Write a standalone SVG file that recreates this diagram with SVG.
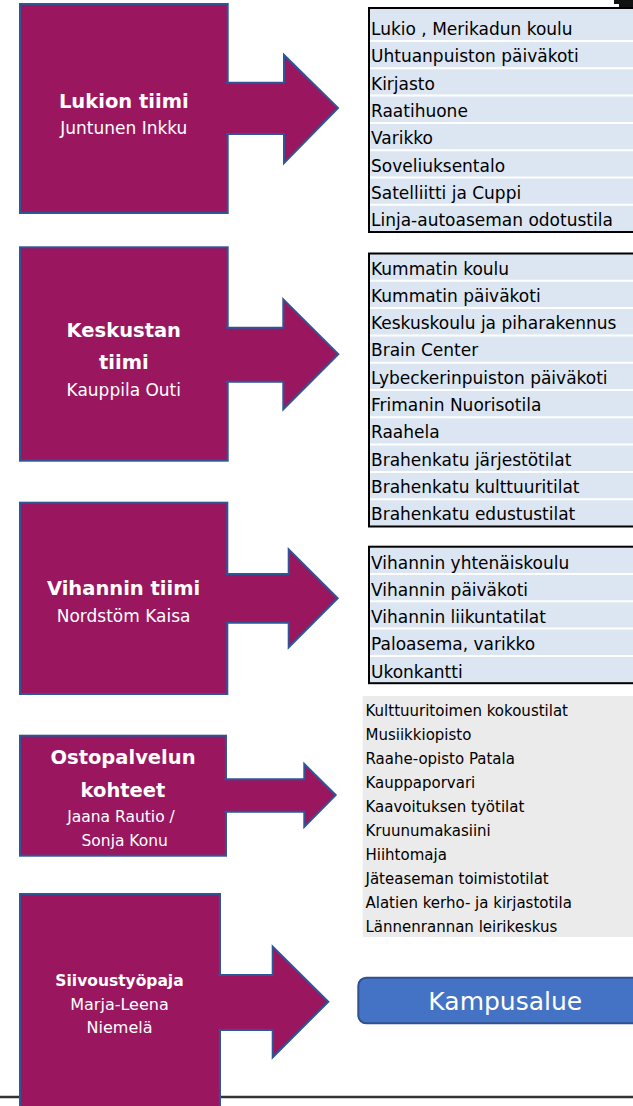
<svg xmlns="http://www.w3.org/2000/svg" width="633" height="1106" viewBox="0 0 633 1106">
<defs>
<style>
.team{fill:#9a1760;stroke:#2f5597;stroke-width:2}
.arrow{fill:#9a1760;stroke:#2f5597;stroke-width:2;stroke-linejoin:miter}
.tb{font-family:"DejaVu Sans",sans-serif;font-weight:bold;fill:#ffffff;text-anchor:middle}
.tr{font-family:"DejaVu Sans",sans-serif;fill:#ffffff;text-anchor:middle}
.list{fill:#dce6f2;stroke:#000000;stroke-width:2}
.sep{stroke:#ffffff;stroke-width:2}
.li{font-family:"DejaVu Sans",sans-serif;font-size:17px;fill:#000000}
.gi{font-family:"DejaVu Sans",sans-serif;font-size:15px;fill:#000000}
</style>
</defs>
<rect width="633" height="1106" fill="#ffffff"/>
<line x1="0" y1="1097" x2="633" y2="1097" stroke="#333333" stroke-width="2.5"/>
<path d="M614,0 H633 V7 H619 V4 H614 Z" fill="#111111"/>

<g id="list-lukio">
<rect class="list" x="369" y="8" width="275" height="224"/>
<g class="sep">
<line x1="370" y1="41" x2="633" y2="41"/><line x1="370" y1="68.3" x2="633" y2="68.3"/><line x1="370" y1="95.6" x2="633" y2="95.6"/><line x1="370" y1="122.9" x2="633" y2="122.9"/><line x1="370" y1="150.2" x2="633" y2="150.2"/><line x1="370" y1="177.5" x2="633" y2="177.5"/><line x1="370" y1="204.8" x2="633" y2="204.8"/>
</g>
<text class="li" x="371" y="35">Lukio , Merikadun koulu</text>
<text class="li" x="371" y="62.3">Uhtuanpuiston päiväkoti</text>
<text class="li" x="371" y="89.6">Kirjasto</text>
<text class="li" x="371" y="116.9">Raatihuone</text>
<text class="li" x="371" y="144.2">Varikko</text>
<text class="li" x="371" y="171.5">Soveliuksentalo</text>
<text class="li" x="371" y="198.8">Satelliitti ja Cuppi</text>
<text class="li" x="371" y="226">Linja-autoaseman odotustila</text>
</g>

<g id="list-keskusta">
<rect class="list" x="369" y="253.5" width="275" height="273"/>
<g class="sep">
<line x1="370" y1="280.8" x2="633" y2="280.8"/><line x1="370" y1="308.1" x2="633" y2="308.1"/><line x1="370" y1="335.4" x2="633" y2="335.4"/><line x1="370" y1="362.7" x2="633" y2="362.7"/><line x1="370" y1="390" x2="633" y2="390"/><line x1="370" y1="417.3" x2="633" y2="417.3"/><line x1="370" y1="444.6" x2="633" y2="444.6"/><line x1="370" y1="471.9" x2="633" y2="471.9"/><line x1="370" y1="499.2" x2="633" y2="499.2"/>
</g>
<text class="li" x="371" y="274.5">Kummatin koulu</text>
<text class="li" x="371" y="301.8">Kummatin päiväkoti</text>
<text class="li" x="371" y="329.1">Keskuskoulu ja piharakennus</text>
<text class="li" x="371" y="356.4">Brain Center</text>
<text class="li" x="371" y="383.7">Lybeckerinpuiston päiväkoti</text>
<text class="li" x="371" y="411">Frimanin Nuorisotila</text>
<text class="li" x="371" y="438.3">Raahela</text>
<text class="li" x="371" y="465.6">Brahenkatu järjestötilat</text>
<text class="li" x="371" y="492.9">Brahenkatu kulttuuritilat</text>
<text class="li" x="371" y="520.2">Brahenkatu edustustilat</text>
</g>

<g id="list-vihanti">
<rect class="list" x="369" y="546.7" width="275" height="136.5"/>
<g class="sep">
<line x1="370" y1="574" x2="633" y2="574"/><line x1="370" y1="601.3" x2="633" y2="601.3"/><line x1="370" y1="628.6" x2="633" y2="628.6"/><line x1="370" y1="655.9" x2="633" y2="655.9"/>
</g>
<text class="li" x="371" y="568.5">Vihannin yhtenäiskoulu</text>
<text class="li" x="371" y="595.8">Vihannin päiväkoti</text>
<text class="li" x="371" y="623.1">Vihannin liikuntatilat</text>
<text class="li" x="371" y="650.4">Paloasema, varikko</text>
<text class="li" x="371" y="677.7">Ukonkantti</text>
</g>

<g id="list-ostopalvelu">
<rect x="362.7" y="696" width="271" height="241" fill="#ebebeb"/>
<text class="gi" x="365.5" y="716">Kulttuuritoimen kokoustilat</text>
<text class="gi" x="365.5" y="740">Musiikkiopisto</text>
<text class="gi" x="365.5" y="764">Raahe-opisto Patala</text>
<text class="gi" x="365.5" y="788">Kauppaporvari</text>
<text class="gi" x="365.5" y="812">Kaavoituksen työtilat</text>
<text class="gi" x="365.5" y="836">Kruunumakasiini</text>
<text class="gi" x="365.5" y="860">Hiihtomaja</text>
<text class="gi" x="365.5" y="884">Jäteaseman toimistotilat</text>
<text class="gi" x="365.5" y="908">Alatien kerho- ja kirjastotila</text>
<text class="gi" x="365.5" y="932">Lännenrannan leirikeskus</text>
</g>

<g id="team-lukio">
<rect class="team" x="20" y="4" width="207.7" height="209"/>
<text class="tb" x="123.8" y="108" font-size="19.5">Lukion tiimi</text>
<text class="tr" x="123.8" y="134" font-size="17">Juntunen Inkku</text>
</g>

<g id="team-keskusta">
<rect class="team" x="20" y="247.3" width="207.7" height="213.4"/>
<text class="tb" x="123.8" y="336.7" font-size="19.5">Keskustan</text>
<text class="tb" x="123.8" y="369.3" font-size="19.5">tiimi</text>
<text class="tr" x="123.8" y="396" font-size="17">Kauppila Outi</text>
</g>

<g id="team-vihanti">
<rect class="team" x="20" y="502.7" width="207.3" height="191.3"/>
<text class="tb" x="123.6" y="595" font-size="19.5">Vihannin tiimi</text>
<text class="tr" x="123.6" y="621.7" font-size="17">Nordstöm Kaisa</text>
</g>

<g id="team-ostopalvelu">
<rect class="team" x="20" y="735.7" width="206" height="120"/>
<text class="tb" x="123" y="764" font-size="19.5">Ostopalvelun</text>
<text class="tb" x="123" y="796.7" font-size="19.5">kohteet</text>
<text class="tr" x="121" y="821.7" font-size="15.5">Jaana Rautio /</text>
<text class="tr" x="124.7" y="846" font-size="15.5">Sonja Konu</text>
</g>

<g id="team-siivous">
<rect class="team" x="20" y="894" width="200" height="230"/>
<text class="tb" x="119.5" y="986" font-size="15.5">Siivoustyöpaja</text>
<text class="tr" x="119.5" y="1010" font-size="16">Marja-Leena</text>
<text class="tr" x="119.5" y="1032.7" font-size="16">Niemelä</text>
</g>

<g id="connectors">
<path class="arrow" d="M226,82.7 H284 V55 L338,108 L284,163 V134 H226"/>
<path class="arrow" d="M226,327.7 H283.3 V299.3 L338.3,354.3 L283.3,409.3 V381.7 H226"/>
<path class="arrow" d="M226,574 H288.7 V549.3 L337.7,598.3 L288.7,647.3 V622.7 H226"/>
<path class="arrow" d="M224.5,779.3 H304.3 V764 L335.7,795 L304.3,826.7 V811.7 H224.5"/>
<path class="arrow" d="M218.5,975 H272.7 V946.7 L328.3,1001.7 L272.7,1057.3 V1030 H218.5"/>
</g>

<g id="kampusalue">
<rect x="358.3" y="977.7" width="290" height="45.6" rx="8" fill="#4472c4" stroke="#2f528f" stroke-width="2"/>
<text x="505.3" y="1010" font-family="DejaVu Sans, sans-serif" font-size="25" fill="#ffffff" text-anchor="middle">Kampusalue</text>
</g>
</svg>
